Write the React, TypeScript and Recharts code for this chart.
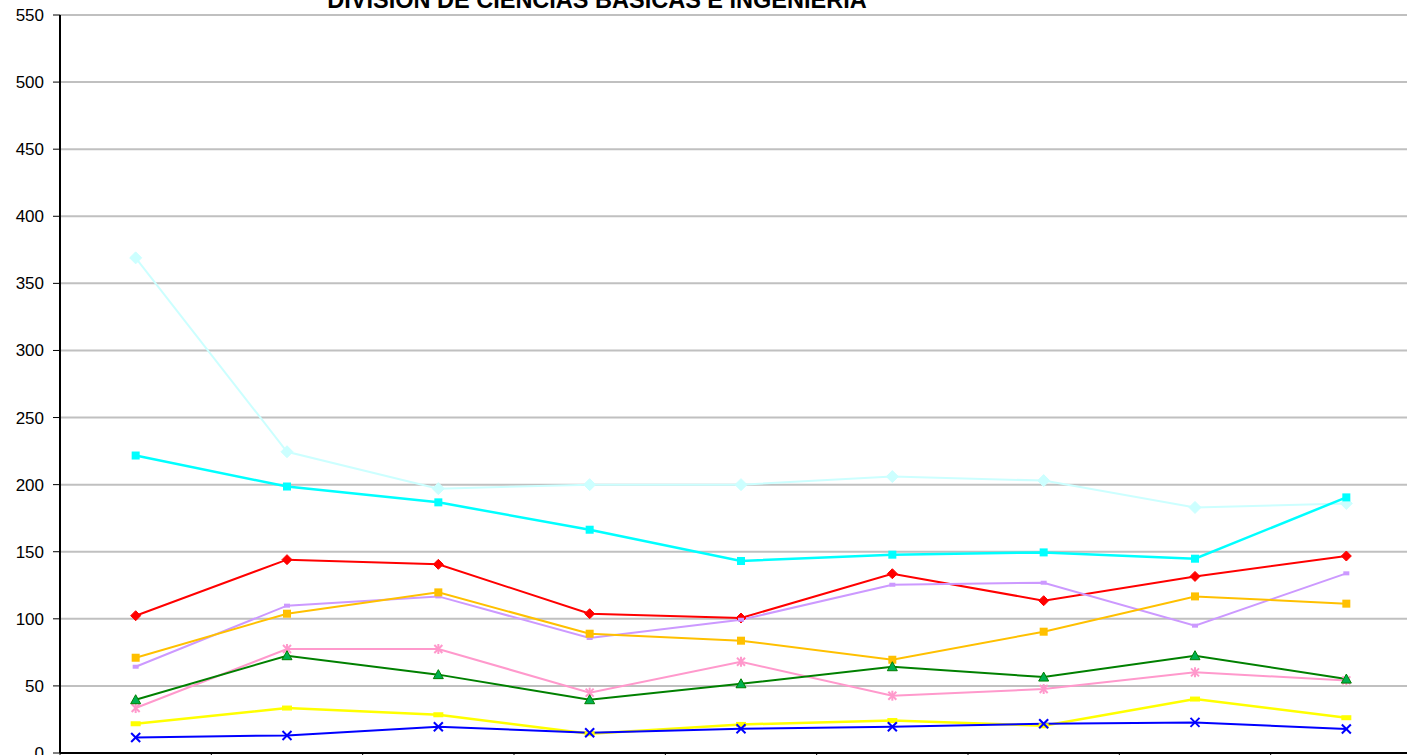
import React from "react";
import { LineChart, Line, XAxis, YAxis, CartesianGrid } from "recharts";

const title = "DIVISIÓN DE CIENCIAS BÁSICAS E INGENIERÍA";
const categories = ["1", "2", "3", "4", "5", "6", "7", "8", "9"];
const yTicks = [0, 50, 100, 150, 200, 250, 300, 350, 400, 450, 500, 550];

const serieLightCyan = [369, 224.5, 197, 200, 200, 206, 203, 183, 186];
const serieCyan = [221.7, 198.6, 186.8, 166.4, 143.1, 147.8, 149.5, 144.8, 190.5];
const serieRed = [102.3, 144.1, 140.6, 103.8, 100.6, 133.6, 113.5, 131.6, 146.8];
const seriePurple = [64.3, 109.8, 116.7, 85.7, 99.3, 125.4, 126.9, 94.9, 133.9];
const serieGold = [71, 103.8, 119.7, 88.9, 83.7, 69.5, 90.4, 116.7, 111.3];
const seriePink = [33.5, 77.5, 77.5, 45, 68, 42.7, 47.7, 60.1, 54.1];
const serieGreen = [39.7, 72.5, 58.4, 39.7, 51.6, 64.3, 56.6, 72.5, 55.1];
const serieYellow = [21.8, 33.5, 28.5, 14.4, 21.3, 24.2, 20.3, 40.2, 26.3];
const serieBlue = [11.6, 13.1, 19.6, 15.1, 18.1, 19.6, 21.8, 22.8, 17.9];

const data = categories.map((c, i) => ({
  x: i + 1,
  name: c,
  lightCyan: serieLightCyan[i],
  cyan: serieCyan[i],
  red: serieRed[i],
  purple: seriePurple[i],
  gold: serieGold[i],
  pink: seriePink[i],
  green: serieGreen[i],
  yellow: serieYellow[i],
  blue: serieBlue[i],
}));

const xTicks = [0.5, 1.5, 2.5, 3.5, 4.5, 5.5, 6.5, 7.5, 8.5, 9.5];

const diamond = (s: number, fill: string) => (p: any) => {
  const { cx, cy, index } = p;
  return (
    <polygon
      key={`d${index}`}
      points={`${cx},${cy - s} ${cx + s},${cy} ${cx},${cy + s} ${cx - s},${cy}`}
      fill={fill}
      stroke={fill}
    />
  );
};
const square = (w: number, h: number, fill: string) => (p: any) => {
  const { cx, cy, index } = p;
  return <rect key={`s${index}`} x={cx - w / 2} y={cy - h / 2} width={w} height={h} fill={fill} />;
};
const triangle = (s: number, fill: string, stroke: string) => (p: any) => {
  const { cx, cy, index } = p;
  return (
    <polygon
      key={`t${index}`}
      points={`${cx},${cy - s} ${cx + s},${cy + s * 0.8} ${cx - s},${cy + s * 0.8}`}
      fill={fill}
      stroke={stroke}
      strokeWidth={1}
    />
  );
};
const cross = (s: number, color: string, star: boolean) => (p: any) => {
  const { cx, cy, index } = p;
  return (
    <g key={`x${index}`} stroke={color} strokeWidth={2}>
      <line x1={cx - s} y1={cy - s} x2={cx + s} y2={cy + s} />
      <line x1={cx - s} y1={cy + s} x2={cx + s} y2={cy - s} />
      {star && <line x1={cx} y1={cy - s - 1} x2={cx} y2={cy + s + 1} />}
    </g>
  );
};

export default function App() {
  return (
    <div style={{ position: "absolute", left: 0, top: 0, width: 1407, height: 755, overflow: "hidden", background: "#fff" }}>
      <LineChart
        width={1430}
        height={800}
        data={data}
        margin={{ top: 15, right: 8, bottom: 17, left: 0 }}
      >
        <CartesianGrid horizontal vertical={false} stroke="#c0c0c0" strokeWidth={2} />
        <XAxis
          dataKey="x"
          type="number"
          domain={[0.5, 9.5]}
          ticks={xTicks}
          tickFormatter={() => ""}
          height={30}
          axisLine={{ stroke: "#000", strokeWidth: 2 }}
          tickLine={{ stroke: "#000" }}
          tickSize={7}
        />
        <YAxis
          type="number"
          domain={[0, 550]}
          ticks={yTicks}
          width={60}
          interval={0}
          axisLine={{ stroke: "#000", strokeWidth: 2 }}
          tickLine={{ stroke: "#000" }}
          tickSize={7}
          tickMargin={9}
          tick={{ fill: "#000", fontSize: 17, fontFamily: "Liberation Sans, Arial, sans-serif" }}
        />
        <Line dataKey="lightCyan" stroke="#ccffff" strokeWidth={2} isAnimationActive={false} dot={diamond(6, "#ccffff")} />
        <Line dataKey="cyan" stroke="#00ffff" strokeWidth={2.5} isAnimationActive={false} dot={square(8, 8, "#00ffff")} />
        <Line dataKey="red" stroke="#ff0000" strokeWidth={2} isAnimationActive={false} dot={diamond(5, "#ff0000")} />
        <Line dataKey="purple" stroke="#cc99ff" strokeWidth={2} isAnimationActive={false} dot={square(6, 4, "#cc99ff")} />
        <Line dataKey="gold" stroke="#ffc000" strokeWidth={2} isAnimationActive={false} dot={square(8, 8, "#ffc000")} />
        <Line dataKey="pink" stroke="#ff99cc" strokeWidth={2} isAnimationActive={false} dot={cross(4, "#ff99cc", true)} />
        <Line dataKey="green" stroke="#008000" strokeWidth={2} isAnimationActive={false} dot={triangle(5, "#00b050", "#008000")} />
        <Line dataKey="yellow" stroke="#ffff00" strokeWidth={2.5} isAnimationActive={false} dot={square(10, 5, "#ffff00")} />
        <Line dataKey="blue" stroke="#0000ff" strokeWidth={2} isAnimationActive={false} dot={cross(4.5, "#0000ff", false)} />
      </LineChart>
      <svg width={1407} height={30} style={{ position: "absolute", left: 0, top: 0 }}>
        <text
          x={597}
          y={8}
          textAnchor="middle"
          fontFamily="Liberation Sans, Arial, sans-serif"
          fontWeight="bold"
          fontSize={23.5}
          fill="#000"
        >
          {title}
        </text>
      </svg>
    </div>
  );
}
